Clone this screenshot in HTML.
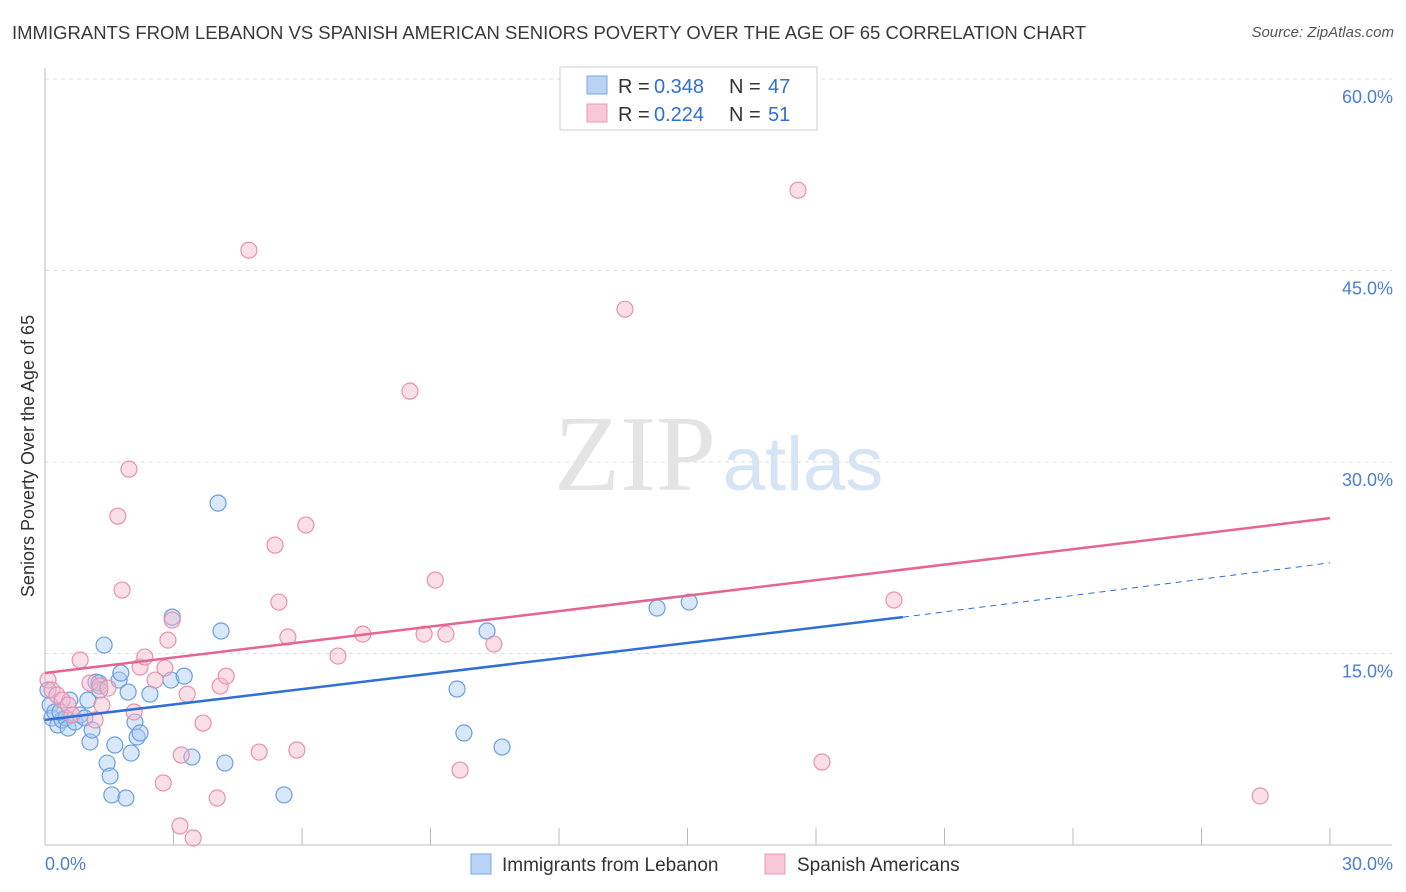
<!DOCTYPE html>
<html><head><meta charset="utf-8">
<style>
body{margin:0;background:#fff;font-family:"Liberation Sans",sans-serif;}
#wrap{position:relative;width:1406px;height:892px;overflow:hidden;}
.title{position:absolute;left:12px;top:22px;font-size:18.5px;color:#3a3a3a;}
.source{position:absolute;right:12px;top:24px;font-size:15px;color:#555;font-style:italic;}
</style></head><body>
<div id="wrap">
<div class="title">IMMIGRANTS FROM LEBANON VS SPANISH AMERICAN SENIORS POVERTY OVER THE AGE OF 65 CORRELATION CHART</div>
<div class="source">Source: ZipAtlas.com</div>
<svg id="svg" width="1406" height="892" style="position:absolute;left:0;top:0"></svg>
</div>
<script>
const blueX=[0.12,0.16,0.23,0.30,0.40,0.49,0.58,0.54,0.70,0.82,0.93,1.00,1.05,1.10,1.19,1.26,1.38,1.45,1.52,1.56,1.63,1.73,1.77,1.89,1.94,2.01,2.10,2.15,2.22,2.45,2.94,2.97,3.25,3.43,4.04,4.11,4.20,5.58,9.62,9.78,10.32,10.67,14.29,15.04,1.28,0.35,0.07];
const blueY=[10.96,9.95,10.42,9.40,9.79,9.95,11.35,9.16,9.63,10.18,9.95,11.35,8.07,9.01,12.76,12.69,15.66,6.42,5.40,3.92,7.83,12.92,13.47,3.68,11.98,7.20,9.63,8.46,8.77,11.82,12.92,17.85,13.23,6.89,26.78,16.76,6.42,3.92,12.22,8.77,16.76,7.67,18.56,19.03,12.14,10.42,12.14];
const pinkX=[0.07,0.16,0.28,0.40,0.54,0.63,0.82,1.05,1.28,1.33,1.47,1.70,1.80,1.96,2.08,2.22,2.33,2.57,2.76,2.87,2.97,3.15,3.18,3.32,3.46,3.69,4.02,4.09,4.23,4.76,5.00,5.37,5.46,5.67,5.88,6.09,6.84,7.42,8.52,8.85,9.11,9.36,9.69,10.48,13.54,17.58,18.14,19.82,28.37,2.80,1.17];
const pinkY=[12.92,12.14,11.75,11.35,10.96,10.18,14.49,12.69,12.45,10.96,12.29,25.76,19.97,29.44,10.42,13.94,14.72,12.92,4.86,16.05,17.62,1.49,7.05,11.82,0.55,9.55,3.68,12.45,13.23,46.59,7.28,23.49,19.03,16.29,7.44,25.06,14.80,16.52,35.55,16.52,20.75,16.52,5.87,15.74,41.97,51.29,6.50,19.19,3.84,13.86,9.79];
const blueLine=[0,9.8,20.03,17.85,30,22.1];
const pinkLine=[0,13.47,30,25.6];
const yTicks=[15,30,45,60];
const yTickLabels=["15.0%","30.0%","45.0%","60.0%"];
const xTicks=[0,3,6,9,12,15,18,21,24,27,30];

const NS="http://www.w3.org/2000/svg";
const svg=document.getElementById('svg');
const X=v=>45+v*1285/30;
const Y=v=>845-v*766/60;
function mk(t,a,p){const e=document.createElementNS(NS,t);for(const k in a)e.setAttribute(k,a[k]);(p||svg).appendChild(e);return e;}

yTicks.forEach((t,i)=>{
 const g=mk('line',{x1:45,x2:1392,y1:Y(t),y2:Y(t),stroke:'#ddd','stroke-dasharray':'4,4'});
 
 
 const tx=mk('text',{x:1393,y:Y(t)+24,'text-anchor':'end','font-size':18,fill:'#4a7fd4'});
 tx.textContent=yTickLabels[i];
 
 
});
mk('line',{x1:45,x2:45,y1:68,y2:845,stroke:'#bbb'});
mk('line',{x1:45,x2:1392,y1:845,y2:845,stroke:'#bbb'});
xTicks.forEach(t=>{
 const l=mk('line',{x1:X(t),x2:X(t),y1:828,y2:845,stroke:'#bbb'});
 
 
});
let t0=mk('text',{x:45,y:870,'font-size':18,fill:'#4a7fd4'});t0.textContent='0.0%';

let t1=mk('text',{x:1393,y:870,'text-anchor':'end','font-size':18,fill:'#4a7fd4'});t1.textContent='30.0%';

let yt=mk('text',{x:34,y:456,'text-anchor':'middle','font-size':18,fill:'#333',transform:'rotate(-90 34 456)'});
yt.textContent='Seniors Poverty Over the Age of 65';


let w1=mk('text',{x:635,y:490,'text-anchor':'middle','font-size':108,fill:'#e4e4e4','font-family':'Liberation Serif'});w1.textContent='ZIP';
let w2=mk('text',{x:803,y:490,'text-anchor':'middle','font-size':76,fill:'#d6e4f6'});w2.textContent='atlas';



function pts(xs,ys,fill,stroke,name){
 xs.forEach((x,i)=>{
  const c=mk('circle',{cx:X(x),cy:Y(ys[i]),r:8,fill:fill,'fill-opacity':0.45,stroke:stroke,'stroke-width':1.2});
  
  
 });
}
pts(blueX,blueY,'#a9c9f2','#6b9fe0','point-lebanon');
pts(pinkX,pinkY,'#f6b9cd','#e891ad','point-spanish-american');

let bl=mk('line',{x1:X(blueLine[0]),y1:Y(blueLine[1]),x2:X(blueLine[2]),y2:Y(blueLine[3]),stroke:'#2f6fd6','stroke-width':2.5});

let bd=mk('line',{x1:X(blueLine[2]),y1:Y(blueLine[3]),x2:X(blueLine[4]),y2:Y(blueLine[5]),stroke:'#2f6fd6','stroke-width':1,'stroke-dasharray':'6,5'});

let pl=mk('line',{x1:X(pinkLine[0]),y1:Y(pinkLine[1]),x2:X(pinkLine[2]),y2:Y(pinkLine[3]),stroke:'#e56490','stroke-width':2.5});


const lg=mk('g',{});

mk('rect',{x:560,y:67,width:257,height:63,fill:'#fff',stroke:'#ccc'},lg);
mk('rect',{x:587,y:76,width:20,height:18,fill:'#b9d3f5',stroke:'#7aa7e2'},lg);
mk('rect',{x:587,y:104,width:20,height:18,fill:'#f9c6d6',stroke:'#eb9ab4'},lg);
[[93,'0.348','47'],[121,'0.224','51']].forEach(r=>{
 const a=mk('text',{x:618,y:r[0],'font-size':20,fill:'#333'},lg);a.textContent='R = ';
 const b=mk('text',{x:654,y:r[0],'font-size':20,fill:'#2f6fd6'},lg);b.textContent=r[1];
 const c=mk('text',{x:729,y:r[0],'font-size':20,fill:'#333'},lg);c.textContent='N = ';
 const d=mk('text',{x:768,y:r[0],'font-size':20,fill:'#2f6fd6'},lg);d.textContent=r[2];
});

const bl2=mk('g',{});

mk('rect',{x:471,y:854,width:20,height:20,fill:'#b9d3f5',stroke:'#7aa7e2'},bl2);
let l1=mk('text',{x:502,y:871,'font-size':19,fill:'#333'},bl2);l1.textContent='Immigrants from Lebanon';
mk('rect',{x:765,y:854,width:20,height:20,fill:'#f9c6d6',stroke:'#eb9ab4'},bl2);
let l2=mk('text',{x:797,y:871,'font-size':19,fill:'#333'},bl2);l2.textContent='Spanish Americans';
</script>
</body></html>
